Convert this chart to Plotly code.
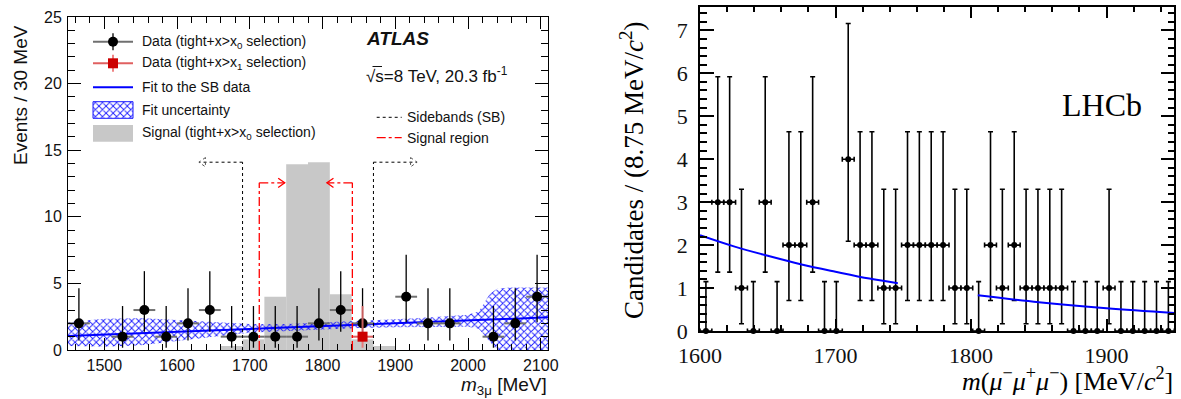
import plotly.graph_objects as go

# ---------------- data : left panel (ATLAS) ----------------
atlas_x = [1465, 1525, 1555, 1585, 1615, 1645, 1675, 1705, 1735, 1765,
           1795, 1825, 1855, 1915, 1945, 1975, 2035, 2065, 2095]
atlas_y = [2, 1, 3, 1, 2, 3, 1, 1, 1, 1, 2, 3, 2, 4, 2, 2, 1, 2, 4]
atlas_red_x = [1855]
atlas_red_y = [1]

signal_x = [1675, 1705, 1735, 1765, 1795, 1825, 1855, 1885]
signal_y = [0.3, 0.8, 4.0, 13.94, 14.09, 4.18, 0.8, 0.3]

fit_x = [1450, 1600, 1750, 1900, 2110]
fit_y = [1.05, 1.38, 1.70, 2.03, 2.45]

band_x = [1450, 1500, 1550, 1600, 1650, 1700, 1750, 1800, 1850, 1900,
          1950, 2000, 2015, 2030, 2040, 2060, 2110]
band_hi = [2.1, 2.35, 2.4, 2.25, 2.05, 1.95, 1.95, 2.05, 2.15, 2.3,
           2.45, 2.65, 2.9, 4.2, 4.6, 4.7, 4.7]
band_lo = [0.3, 0.25, 0.35, 0.7, 1.0, 1.3, 1.45, 1.55, 1.65, 1.7,
           1.75, 1.75, 1.6, 0.6, 0.0, 0.0, 0.0]

sb_edges = [1690, 1870]
sb_height = 14.1
sb_arrow = 60
sr_edges = [1713, 1841]
sr_height = 12.55
sr_arrow = 35

# ---------------- data : right panel (LHCb) ----------------
lhcb_lo_edge = 1600
lhcb_binw = 8.75
lhcb_y = [0, 3, 3, 1, 0, 3, 0, 2, 2, 3, 0, 0, 4, 2, 2, 1, 1, 2, 2, 2,
          2, 1, 1, 0, 2, 1, 2, 1, 1, 1, 1, 0, 0, 0, 1, 0, 0, 0, 0, 0]
lhcb_fit_a_x = [1600, 1625, 1650, 1675, 1700, 1725, 1746]
lhcb_fit_a_y = [2.23, 1.97, 1.75, 1.55, 1.38, 1.22, 1.11]
lhcb_fit_b_x = [1805, 1850, 1900, 1950]
lhcb_fit_b_y = [0.83, 0.67, 0.53, 0.42]

# Poisson error interval (low, high) for counts 0..4
pois_low = [0.0, 0.17, 0.71, 1.37, 2.09]
pois_high = [1.15, 3.30, 4.64, 5.92, 7.16]

W, H = 1181, 399
SANS = "Liberation Sans"
SERIF = "Liberation Serif"
HATCH = dict(shape="x", fgcolor="#1a1aff", bgcolor="rgba(0,0,0,0)", size=5, solidity=0.33)


def px(x):
    return x / W


def py(y):
    return 1 - y / H


def err_up(vals):
    return [pois_high[v] - v for v in vals]


def err_dn(vals):
    return [v - pois_low[v] for v in vals]


fig = go.Figure()

# signal histogram
fig.add_trace(go.Bar(x=signal_x, y=signal_y, width=30, marker=dict(color="#c8c8c8", line=dict(width=0)),
                     xaxis="x", yaxis="y", showlegend=False))
# fit uncertainty band
fig.add_trace(go.Scatter(x=band_x + band_x[::-1], y=band_hi + band_lo[::-1], mode="lines",
                         fill="toself", fillcolor="rgba(0,0,0,0)", line=dict(width=0),
                         fillpattern=HATCH, xaxis="x", yaxis="y", showlegend=False))
# fit line
fig.add_trace(go.Scatter(x=fit_x, y=fit_y, mode="lines", line=dict(color="#0000ff", width=2),
                         xaxis="x", yaxis="y", showlegend=False))
# data x0
fig.add_trace(go.Scatter(x=atlas_x, y=atlas_y, mode="markers",
                         marker=dict(color="black", size=10),
                         error_y=dict(type="data", symmetric=False, array=err_up(atlas_y),
                                      arrayminus=err_dn(atlas_y), color="black", thickness=1.3, width=0),
                         error_x=dict(type="constant", value=15, color="#707070", thickness=2, width=0),
                         xaxis="x", yaxis="y", showlegend=False))
# data x1 (red)
fig.add_trace(go.Scatter(x=atlas_red_x, y=atlas_red_y, mode="markers",
                         marker=dict(color="#cc0000", size=10, symbol="square"),
                         error_y=dict(type="data", symmetric=False, array=err_up(atlas_red_y),
                                      arrayminus=err_dn(atlas_red_y), color="rgba(235,110,110,0.85)",
                                      thickness=2, width=0),
                         error_x=dict(type="constant", value=15, color="#e06060", thickness=2, width=0),
                         xaxis="x", yaxis="y", showlegend=False))

# right panel
lhcb_x = [lhcb_lo_edge + lhcb_binw * (i + 0.5) for i in range(len(lhcb_y))]
fig.add_trace(go.Scatter(x=lhcb_x, y=lhcb_y, mode="markers", marker=dict(color="black", size=6),
                         error_y=dict(type="data", symmetric=False, array=err_up(lhcb_y),
                                      arrayminus=err_dn(lhcb_y), color="black", thickness=1.6, width=2.5),
                         error_x=dict(type="constant", value=lhcb_binw / 2, color="black", thickness=1.6,
                                      width=2.5),
                         xaxis="x2", yaxis="y2", showlegend=False, cliponaxis=False))
for fx, fy in [(lhcb_fit_a_x, lhcb_fit_a_y), (lhcb_fit_b_x, lhcb_fit_b_y)]:
    fig.add_trace(go.Scatter(x=fx, y=fy, mode="lines", line=dict(color="#0000ff", width=2, shape="spline"),
                             xaxis="x2", yaxis="y2", showlegend=False))

# ---------------- legend glyphs (pixel overlay axis) ----------------
LX0, LX1, LXC = 93, 133, 113
rows = [41.7, 63.3, 87.3, 110, 133.3]


def ov(**kw):
    kw.setdefault("showlegend", False)
    kw.setdefault("hoverinfo", "skip")
    fig.add_trace(go.Scatter(xaxis="x3", yaxis="y3", **kw))


ov(x=[LX0, LX1], y=[rows[0]] * 2, mode="lines", line=dict(color="#707070", width=2))
ov(x=[LXC, LXC], y=[rows[0] - 8.5, rows[0] + 8.5], mode="lines", line=dict(color="black", width=1.3))
ov(x=[LXC], y=[rows[0]], mode="markers", marker=dict(color="black", size=10))
ov(x=[LX0, LX1], y=[rows[1]] * 2, mode="lines", line=dict(color="#e06060", width=2))
ov(x=[LXC, LXC], y=[rows[1] - 8.5, rows[1] + 8.5], mode="lines", line=dict(color="rgba(235,110,110,0.85)", width=2))
ov(x=[LXC], y=[rows[1]], mode="markers", marker=dict(color="#cc0000", size=10, symbol="square"))
ov(x=[LX0, LX1], y=[rows[2]] * 2, mode="lines", line=dict(color="#0000ff", width=2))
ov(x=[LX0, LX1, LX1, LX0, LX0], y=[101.7, 101.7, 118.3, 118.3, 101.7], mode="lines", fill="toself",
   fillcolor="rgba(0,0,0,0)", line=dict(color="#1a1aff", width=1), fillpattern=HATCH)
ov(x=[LX0, LX1, LX1, LX0, LX0], y=[125, 125, 141.7, 141.7, 125], mode="lines", fill="toself",
   fillcolor="#c8c8c8", line=dict(width=0))
ov(x=[376.7, 401.7], y=[117.3] * 2, mode="lines", line=dict(color="black", width=1, dash="dot"))
ov(x=[376.7, 401.7], y=[137.7] * 2, mode="lines", line=dict(color="#ff0000", width=1.3, dash="dashdot"))

# ---------------- sideband / signal region markers ----------------
shapes = []
for i, e in enumerate(sb_edges):
    d = -1 if i == 0 else 1
    tip = e + d * sb_arrow
    st = dict(color="black", width=1, dash="dot")
    shapes.append(dict(type="line", xref="x", yref="y", x0=e, x1=e, y0=0, y1=sb_height, line=st))
    shapes.append(dict(type="line", xref="x", yref="y", x0=e, x1=tip, y0=sb_height, y1=sb_height, line=st))
    shapes.append(dict(type="path", xref="x", yref="y",
                       path=f"M {tip - d * 9},{sb_height + 0.35} L {tip},{sb_height} L {tip - d * 9},{sb_height - 0.35} Z",
                       line=dict(color="#555", width=1, dash="dot")))
for i, e in enumerate(sr_edges):
    d = 1 if i == 0 else -1
    tip = e + d * sr_arrow
    st = dict(color="#ff0000", width=1.3, dash="dashdot")
    shapes.append(dict(type="line", xref="x", yref="y", x0=e, x1=e, y0=0, y1=sr_height, line=st))
    shapes.append(dict(type="line", xref="x", yref="y", x0=e, x1=tip, y0=sr_height, y1=sr_height, line=st))
    shapes.append(dict(type="path", xref="x", yref="y",
                       path=f"M {tip - d * 9},{sr_height + 0.35} L {tip},{sr_height} L {tip - d * 9},{sr_height - 0.35}",
                       line=dict(color="#ff0000", width=1.3)))
# overline of the square root in "√s"
shapes.append(dict(type="line", xref="paper", yref="paper", x0=px(372.5), x1=px(382), y0=py(66.5), y1=py(66.5),
                   line=dict(color="#111", width=1)))

# ---------------- texts ----------------
ann = []


def text(x, y, t, size, family=SANS, xanchor="left", angle=0, color="#111"):
    ann.append(dict(x=px(x), y=py(y), xref="paper", yref="paper", text=t, showarrow=False,
                    xanchor=xanchor, yanchor="middle", textangle=angle,
                    font=dict(family=family, size=size, color=color)))


legend_texts = ["Data (tight+x>x<sub>0</sub> selection)", "Data (tight+x>x<sub>1</sub> selection)",
                "Fit to the SB data", "Fit uncertainty", "Signal (tight+x>x<sub>0</sub> selection)"]
for r, t in zip(rows, legend_texts):
    text(140, r, t, 14)
text(405, 117.3, "Sidebands (SB)", 14)
text(405, 137.7, "Signal region", 14)
text(364, 38, "<b><i>ATLAS</i></b>", 19)
text(364, 75, "√s=8 TeV, 20.3 fb<sup>-1</sup>", 17)
text(20, 95, "Events / 30 MeV", 19, xanchor="center", angle=-90)
text(549, 386, "<i>m</i><sub>3μ</sub> [MeV]", 19, xanchor="right")

text(632, 171, "Candidates / (8.75 MeV/<i>c</i><sup>2</sup>)", 27, family=SERIF, xanchor="center", angle=-90, color="#000")
text(1175, 379, "<i>m</i>(<i>μ</i><sup>−</sup><i>μ</i><sup>+</sup><i>μ</i><sup>−</sup>) [MeV/<i>c</i><sup>2</sup>]",
     26, family=SERIF, xanchor="right", color="#000")
text(1102, 105, "LHCb", 32, family=SERIF, xanchor="center", color="#000")


def axis(domain, rng, dtick, mdtick, ln, mln, family, size, lw, tick0=None, anchor=None, standoff=None):
    d = dict(domain=domain, range=rng, dtick=dtick, ticks="inside", ticklen=ln, tickwidth=lw,
             tickcolor="black", showline=True, linecolor="black", linewidth=lw, mirror="allticks",
             showgrid=False, zeroline=False, anchor=anchor, automargin=False,
             tickfont=dict(family=family, size=size, color="#111"),
             minor=dict(ticks="inside", ticklen=mln, dtick=mdtick, tickcolor="black", tickwidth=lw,
                        showgrid=False))
    if tick0 is not None:
        d["tick0"] = tick0
    if standoff is not None:
        d["ticklabelstandoff"] = standoff
    return d


fig.update_layout(
    template="none",
    width=W, height=H, autosize=False,
    margin=dict(l=0, r=0, t=0, b=0, pad=0),
    paper_bgcolor="white", plot_bgcolor="rgba(0,0,0,0)",
    showlegend=False,
    barmode="overlay",
    xaxis=axis([68 / W, 548 / W], [1450, 2110], 100, 20, 12, 6, SANS, 16, 1, tick0=1500, anchor="y", standoff=1),
    yaxis=axis([1 - 350 / H, 1 - 17 / H], [0, 25], 5, 1, 13, 7, SANS, 16, 1, anchor="x", standoff=2),
    xaxis2=axis([700 / W, 1174.3 / W], [1600, 1950], 100, 20, 12, 6, SERIF, 22, 1.5, anchor="y2", standoff=4),
    yaxis2=axis([1 - 331 / H, 1 - 6.7 / H], [0, 7.55], 1, 0.2, 14, 7, SERIF, 22, 1.5, anchor="x2", standoff=6),
    xaxis3=dict(domain=[0, 1], range=[0, W], visible=False, anchor="y3", fixedrange=True, automargin=False),
    yaxis3=dict(domain=[0, 1], range=[H, 0], visible=False, anchor="x3", fixedrange=True, automargin=False),
    shapes=shapes,
    annotations=ann,
)

fig.write_html("out.html", config={"displayModeBar": False},
               post_script="document.body.style.margin='0px';")
